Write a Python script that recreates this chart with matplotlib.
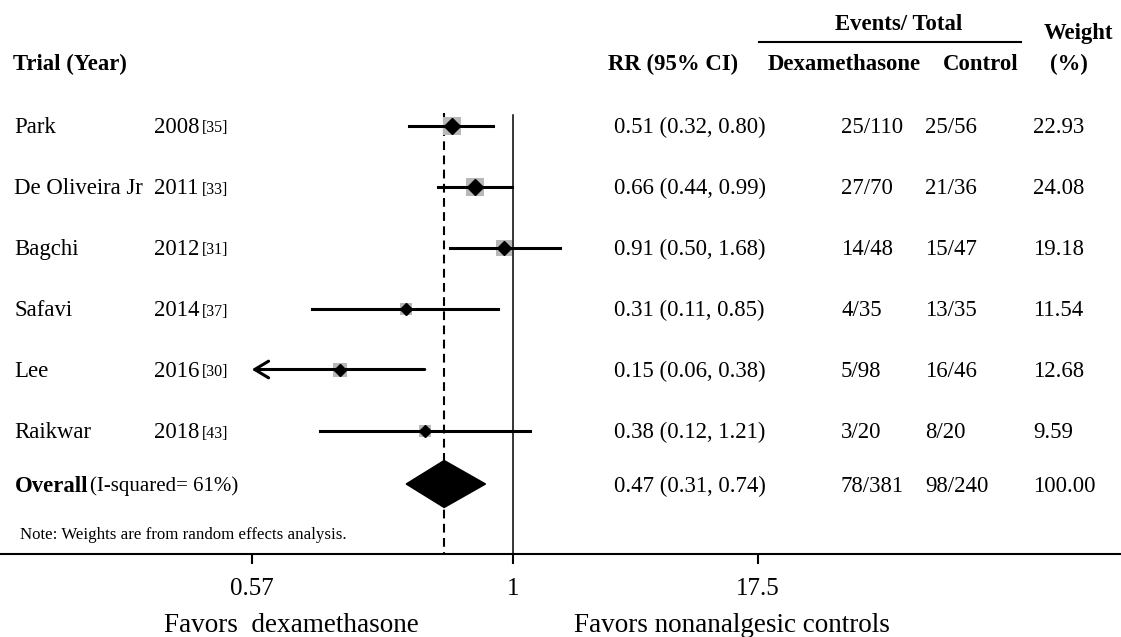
import numpy as np
import matplotlib
matplotlib.use("Agg")
import matplotlib.pyplot as plt
from matplotlib.patches import Polygon

W, H = 1121, 637

# study data
trials = ["Park", "De Oliveira Jr", "Bagchi", "Safavi", "Lee", "Raikwar"]
years = ["2008", "2011", "2012", "2014", "2016", "2018"]
refs = ["[35]", "[33]", "[31]", "[37]", "[30]", "[43]"]
rr = [0.51, 0.66, 0.91, 0.31, 0.15, 0.38]
rr_lo = [0.32, 0.44, 0.50, 0.11, 0.06, 0.12]
rr_hi = [0.80, 0.99, 1.68, 0.85, 0.38, 1.21]
dex_events = ["25/110", "27/70", "14/48", "4/35", "5/98", "3/20"]
ctrl_events = ["25/56", "21/36", "15/47", "13/35", "16/46", "8/20"]
weights = [22.93, 24.08, 19.18, 11.54, 12.68, 9.59]
clipped = [False, False, False, False, True, False]

# pooled estimate
overall_rr, overall_lo, overall_hi = 0.47, 0.31, 0.74
overall_dex, overall_ctrl, overall_weight = "78/381", "98/240", 100.00
i_squared = 61

tick_vals = [0.057, 1, 14.7]
tick_labels = ["0.57", "1", "17.5"]

plt.rcParams["font.family"] = ["Liberation Serif", "DejaVu Serif"]

fig = plt.figure(figsize=(W / 100, H / 100), dpi=100)
axis_y = 554
ax = fig.add_axes([0, 1 - axis_y / H, 1, axis_y / H])
ax.set_xscale("log")
ppd = 210.0  # pixels per decade
ax.set_xlim(10 ** (-513 / ppd), 10 ** ((W - 513) / ppd))
ax.set_ylim(axis_y, 0)
ax.patch.set_alpha(0)

for s in ["top", "left", "right"]:
    ax.spines[s].set_visible(False)
ax.spines["bottom"].set_linewidth(1.5)
ax.set_yticks([])
ax.set_xticks(tick_vals)
ax.set_xticklabels(tick_labels)
ax.xaxis.set_minor_locator(matplotlib.ticker.NullLocator())
ax.tick_params(axis="x", length=7, width=1.5, pad=10, labelsize=18)

row_y = [125.5 + 61 * i for i in range(len(trials))]
overall_y = 484

# reference lines
ax.plot([overall_rr, overall_rr], [113, axis_y], color="black", lw=1.5,
        dashes=(4.2, 2.6), zorder=1)
ax.plot([1, 1], [115, axis_y], color="black", lw=1.1, zorder=1)

xmin_tick = tick_vals[0]
for i in range(len(trials)):
    y = row_y[i]
    side = 3.8 * np.sqrt(weights[i]) * 0.72
    ax.scatter([rr[i]], [y], marker="s", s=side ** 2, color="#b8b8b8",
               linewidths=0, zorder=2)
    if clipped[i]:
        ax.annotate("", xy=(xmin_tick, y), xytext=(rr_hi[i], y),
                    arrowprops=dict(arrowstyle="->,head_length=0.5,head_width=0.3",
                                    lw=2.2, color="black", shrinkA=0, shrinkB=0,
                                    mutation_scale=20), zorder=3)
    else:
        ax.plot([rr_lo[i], rr_hi[i]], [y, y], color="black", lw=2.2, zorder=3)
    dsize = (2.6 * np.sqrt(weights[i]) + 3.5) * 0.72 / 1.414
    ax.plot([rr[i]], [y], marker="D", ms=dsize, color="black", zorder=4)

diamond = Polygon([(overall_lo, overall_y), (overall_rr, overall_y - 23.5),
                   (overall_hi, overall_y), (overall_rr, overall_y + 23.5)],
                  closed=True, facecolor="black", edgecolor="black", zorder=4)
ax.add_patch(diamond)


def put(x, y, s, **kw):
    kw.setdefault("va", "center")
    kw.setdefault("ha", "left")
    kw.setdefault("fontsize", 16.4)
    fig.text(x / W, 1 - (y + 2) / H, s, **kw)


# headers
put(13, 62, "Trial (Year)", fontweight="bold")
put(608, 62, "RR (95% CI)", fontweight="bold")
put(835, 23, "Events/ Total", fontweight="bold")
put(768, 62, "Dexamethasone", fontweight="bold")
put(943, 62, "Control", fontweight="bold")
put(1044, 32, "Weight", fontweight="bold")
put(1050, 62, "(%)", fontweight="bold")
fig.add_artist(plt.Line2D([759 / W, 1021 / W], [1 - 42 / H, 1 - 42 / H],
                          color="black", lw=1.5))

# study rows
for i in range(len(trials)):
    y = row_y[i]
    put(14, y, trials[i])
    put(154, y, years[i])
    put(202, y + 1, refs[i], fontsize=11.5)
    put(614, y, f"{rr[i]:.2f} ({rr_lo[i]:.2f}, {rr_hi[i]:.2f})")
    put(841, y, dex_events[i])
    put(925, y, ctrl_events[i])
    put(1033, y, f"{weights[i]:.2f}")

# overall row
put(15, overall_y, "Overall", fontweight="bold")
put(90, overall_y, f"(I-squared= {i_squared}%)", fontsize=15)
put(614, overall_y, f"{overall_rr:.2f} ({overall_lo:.2f}, {overall_hi:.2f})")
put(841, overall_y, overall_dex)
put(925, overall_y, overall_ctrl)
put(1033, overall_y, f"{overall_weight:.2f}")

put(20, 533, "Note: Weights are from random effects analysis.", fontsize=12.2)

put(291, 623, "Favors  dexamethasone", ha="center", fontsize=19.5)
put(732, 623, "Favors nonanalgesic controls", ha="center", fontsize=19.5)

fig.savefig("out.png", dpi=100, facecolor="white")
